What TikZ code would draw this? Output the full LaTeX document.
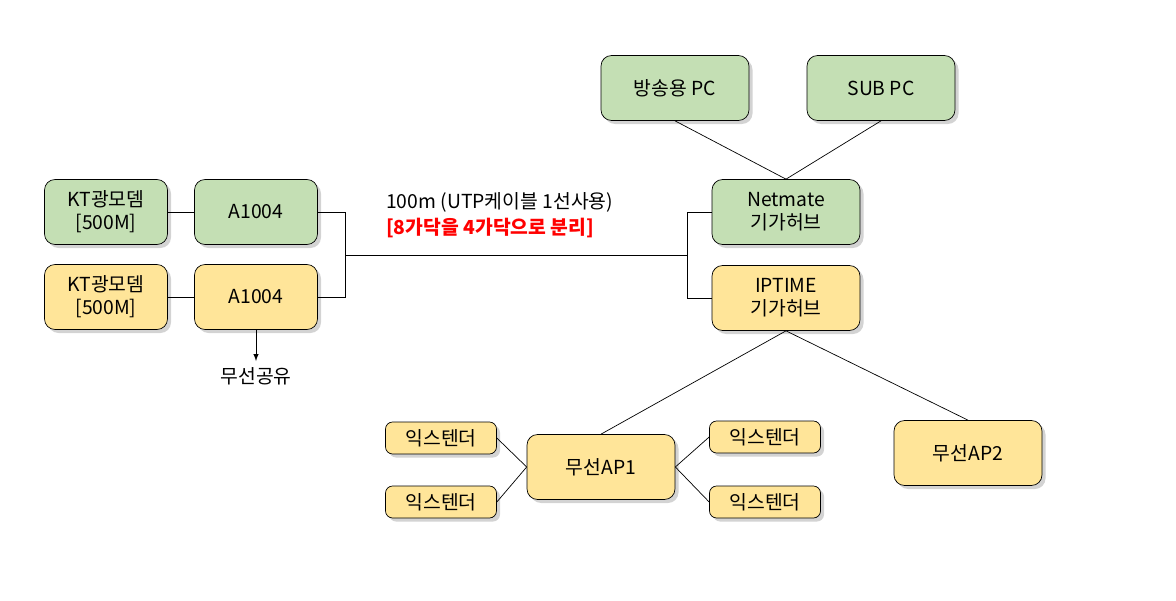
\documentclass[tikz,border=0pt]{standalone}
\usepackage{fontspec}
\setmainfont{Noto Sans CJK KR}
\usetikzlibrary{shadows}
\definecolor{gfill}{RGB}{196,223,180}
\definecolor{yfill}{RGB}{255,229,153}
\begin{document}
\begin{tikzpicture}[x=0.02cm, y=-0.02cm,
  box/.style={draw=black, rounded corners=6pt, align=center, font=\fontsize{11}{13}\selectfont,
    drop shadow={shadow xshift=2pt, shadow yshift=-2pt, opacity=0.35}},
  gbox/.style={box, fill=gfill, minimum width=2.46cm, minimum height=1.3cm},
  ybox/.style={box, fill=yfill, minimum width=2.46cm, minimum height=1.3cm},
  pc/.style={gbox, minimum width=2.96cm},
  ext/.style={box, fill=yfill, minimum width=2.22cm, minimum height=0.64cm, rounded corners=4pt}]
  \useasboundingbox (0,0) rectangle (1176,601);

  \node[gbox] (kt1) at (106,212) {KT광모뎀\\{[}500M{]}};
  \node[gbox] (a1) at (256,212) {A1004};
  \node[ybox] (kt2) at (106,297) {KT광모뎀\\{[}500M{]}};
  \node[ybox] (a2) at (256,297) {A1004};

  \node[pc] (bpc) at (675,88) {방송용 PC};
  \node[pc] (spc) at (881,88) {SUB PC};
  \node[pc] (net) at (786,212) {Netmate\\기가허브};
  \node[pc, fill=yfill] (ipt) at (786,298) {IPTIME\\기가허브};

  \node[pc, fill=yfill] (ap1) at (601,467) {무선AP1};
  \node[pc, fill=yfill] (ap2) at (968,453) {무선AP2};

  \node[ext] (e1) at (441,438) {익스텐더};
  \node[ext] (e2) at (441,502) {익스텐더};
  \node[ext] (e3) at (765,437) {익스텐더};
  \node[ext] (e4) at (765,502) {익스텐더};

  \coordinate (lj) at (345,255);
  \coordinate (rj) at (687,255);
  \node[anchor=west, font=\fontsize{11}{13}\selectfont] (lab1) at (380,202) {100m (UTP케이블 1선사용)};
  \node[anchor=west, font=\bfseries\fontsize{11}{13}\selectfont, text=red] (lab2) at (380,228) {[8가닥을 4가닥으로 분리]};
  \node[font=\fontsize{11}{13}\selectfont] (wl) at (256,376) {무선공유};

  \draw (kt1) -- (a1);
  \draw (kt2) -- (a2);
  \draw (a1.east) -| (lj);
  \draw (a2.east) -| (lj);
  \draw (lj) -- (rj);
  \draw (rj) |- (net.west);
  \draw (rj) |- (ipt.west);
  \draw (net.north) -- (bpc.south);
  \draw (net.north) -- (spc.south);
  \draw (ipt.south) -- (ap1.north);
  \draw (ipt.south) -- (ap2.north);
  \draw (ap1.west) -- (e1.east);
  \draw (ap1.west) -- (e2.east);
  \draw (ap1.east) -- (e3.west);
  \draw (ap1.east) -- (e4.west);
  \draw[-latex] (a2.south) -- (wl.north);
\end{tikzpicture}
\end{document}
